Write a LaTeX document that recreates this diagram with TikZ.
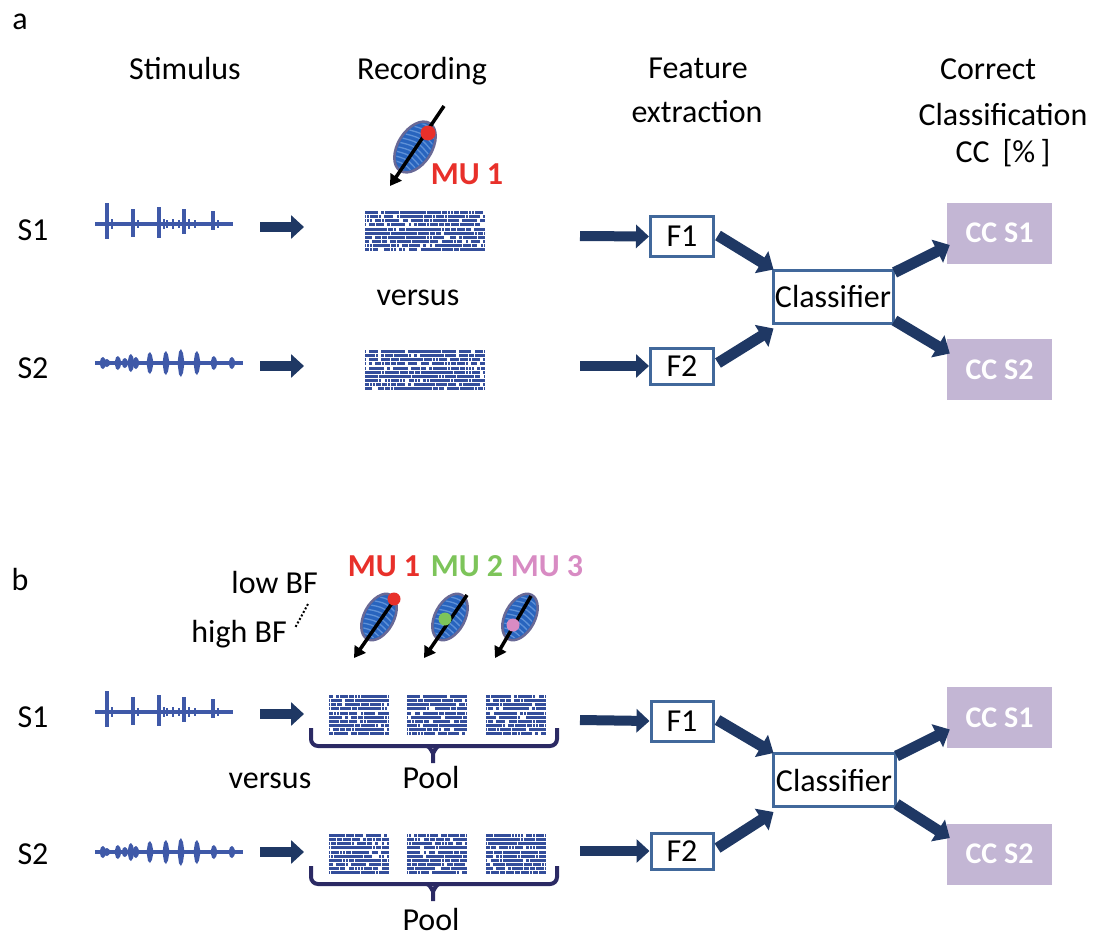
\documentclass[tikz,border=0pt]{standalone}
\usepackage{fontspec}
\setmainfont{Carlito}
\usetikzlibrary{arrows.meta}

\definecolor{navy}{RGB}{31,56,100}
\definecolor{boxblue}{RGB}{65,104,155}
\definecolor{lav}{RGB}{195,182,212}
\definecolor{wave}{RGB}{63,89,168}
\definecolor{rastercol}{RGB}{52,78,155}
\definecolor{mured}{RGB}{232,48,42}
\definecolor{mugreen}{RGB}{125,196,90}
\definecolor{mupink}{RGB}{216,139,195}
\definecolor{cellblue}{RGB}{40,100,190}
\definecolor{cellrim}{RGB}{105,105,150}
\definecolor{cellstripe}{RGB}{95,145,215}
\definecolor{bracecol}{RGB}{43,42,100}

\tikzset{
  txt/.style={font=\fontsize{32}{38}\selectfont, inner sep=0pt, anchor=base},
  mulbl/.style={font=\fontsize{32}{38}\selectfont\bfseries, inner sep=0pt, anchor=base},
  featbox/.style={draw=boxblue, line width=3pt, fill=white, inner sep=0pt,
    font=\fontsize{32}{38}\selectfont},
  ccbox/.style={fill=lav, inner sep=0pt, minimum width=105pt, minimum height=61pt,
    text=white, font=\fontsize{30}{36}\selectfont\bfseries},
  fatarrow/.style={draw=navy, line width=10pt, -{Triangle[width=23pt,length=13pt]}},
  diagarrow/.style={draw=navy, line width=11pt, -{Triangle[width=25pt,length=14pt]}},
  electrode/.style={draw=black, line width=3.5pt, -{Triangle[width=13pt,length=11pt]}},
  brace/.style={draw=bracecol, line width=4pt, rounded corners=7pt},
}

% raster of spike trains: x0, y0, width, rows, seed
% each row is a bar broken by short random gaps
\newcommand{\spikeraster}[5]{%
  \pgfmathsetseed{#5}%
  \foreach \rr in {1,...,#4}{%
    \fill[rastercol] ({#1},{#2+(\rr-1)*4.15}) rectangle ++(#3,2.9);
    \pgfmathtruncatemacro{\ncell}{#3/3}%
    \foreach \cc in {1,...,\ncell}{%
      \pgfmathsetmacro{\pr}{rnd}%
      \ifdim\pr pt<0.30pt\relax
        \pgfmathsetmacro{\gw}{\pr<0.07 ? 3.2 : 1.7}%
        \fill[white] ({#1+(\cc-1)*3+0.6},{#2+(\rr-1)*4.15-0.2}) rectangle ++(\gw,3.3);
      \fi
    }%
  }%
}

% click-train stimulus, left end at (#1,#2)
\newcommand{\stimclicks}[2]{%
  \begin{scope}[shift={(#1,#2)}]
    \draw[wave, line width=4.5pt] (0,0) -- (138,0);
    \foreach \dx/\up/\dn in {12/21/15, 38/15/13, 64/17/14, 89/15/10, 118/13/6}
      \fill[wave] (\dx-1.7,-\up) rectangle (\dx+1.7,\dn);
    \foreach \dx/\h in {17/5, 43/4, 69/5, 72/4, 78/5, 84/4, 94/5, 100/4, 123/4}
      \fill[wave] (\dx-1.2,-\h) rectangle (\dx+1.2,\h);
  \end{scope}
}

% vocalisation-like stimulus, left end at (#1,#2)
\newcommand{\stimbursts}[2]{%
  \begin{scope}[shift={(#1,#2)}]
    \draw[wave, line width=4.5pt] (0,0) -- (148,0);
    \foreach \dx/\h in {8/6, 12/4, 23/7, 30/5, 36/9, 41/6, 55/11, 71/12, 86/14, 102/12, 119/7, 137/6}
      \fill[wave] (\dx-3.5,0) -- (\dx-2,-\h*0.8) -- (\dx,-\h) -- (\dx+2,-\h*0.7)
        -- (\dx+3.5,0) -- (\dx+2,\h*0.7) -- (\dx,\h) -- (\dx-2,\h*0.8) -- cycle;
  \end{scope}
}

% muscle-fibre bundle: centre x, centre y, half length, half width, angle
\newcommand{\fibre}[5]{%
  \begin{scope}[shift={(#1,#2)}, rotate=#5]
    \fill[cellblue, draw=cellrim, line width=2.5pt] (0,0) ellipse [x radius=#3, y radius=#4];
    \begin{scope}
      \clip (0,0) ellipse [x radius=#3-2, y radius=#4-2];
      \foreach \t in {-30,-25,...,30}
        \draw[cellstripe, line width=1.3pt] (\t,-18) .. controls (\t+6,0) .. (\t,18);
    \end{scope}
  \end{scope}
}

\begin{document}
\begin{tikzpicture}[x=1pt, y=-1pt]
\useasboundingbox (0,0) rectangle (1099,939);

% ---------- panel labels and column headers ----------
\node[txt] (pa) at (20,30) {a};
\node[txt] (pb) at (20,590) {b};
\node[txt] (hstim) at (185,80) {Stimulus};
\node[txt] (hrec) at (422,80) {Recording};
\node[txt] (hfeat1) at (698,79) {Feature};
\node[txt] (hfeat2) at (697,123) {extraction};
\node[txt] (hcc1) at (988,80) {Correct};
\node[txt] (hcc2) at (1003,125) {Classification};
\node[txt] (hcc3) at (1003,162) {CC\hspace{0.4em}[\%\,]};

% ================= panel a =================
\node[txt] (sa1) at (33,240) {S1};
\node[txt] (sa2) at (33,378) {S2};
\stimclicks{95}{224}
\stimbursts{95}{363}

\coordinate (sa1s) at (260,227); \coordinate (sa1e) at (304,227);
\coordinate (sa2s) at (260,366); \coordinate (sa2e) at (304,366);
\draw[fatarrow] (sa1s) -- (sa1e);
\draw[fatarrow] (sa2s) -- (sa2e);

% single multi-unit recording
\fibre{415}{147}{28}{17}{58}
\coordinate (ea_top) at (444,106); \coordinate (ea_tip) at (390,186);
\draw[electrode] (ea_top) -- (ea_tip);
\fill[mured] (428,133) circle (7.5);
\node[mulbl, text=mured] (mua1) at (467,184) {MU 1};

\spikeraster{365}{211}{120}{10}{11}
\spikeraster{365}{350}{120}{10}{23}
\node[txt] (vsa) at (418,305) {versus};

\node[featbox, minimum width=63pt, minimum height=40pt] (fa1) at (682,236.5) {F1};
\node[featbox, minimum width=63pt, minimum height=36pt] (fa2) at (682,366) {F2};
\node[featbox, minimum width=120pt, minimum height=53pt] (cla) at (833,296.5) {Classifier};
\node[ccbox] (cca1) at (999.5,233) {CC S1};
\node[ccbox] (cca2) at (999.5,369.5) {CC S2};

\coordinate (fa1s) at (580,236); \coordinate (fa2s) at (580,366);
\draw[fatarrow] (fa1s) -- (fa1.west);
\draw[fatarrow] (fa2s) -- (fa2.west);
\draw[diagarrow] ([xshift=3pt,yshift=1pt]fa1.east) -- ([xshift=2pt,yshift=-1pt]cla.north west);
\draw[diagarrow] ([xshift=3pt,yshift=3pt]fa2.east) -- ([xshift=2pt,yshift=-4pt]cla.south west);
\draw[diagarrow] ([yshift=-4pt]cla.north east) -- ([xshift=3pt,yshift=-12pt]cca1.west);
\draw[diagarrow] ([yshift=4pt]cla.south east) -- ([xshift=3pt,yshift=16pt]cca2.west);

% ================= panel b =================
\node[mulbl, text=mured] (mub1) at (384,576) {MU 1};
\node[mulbl, text=mugreen] (mub2) at (467,576) {MU 2};
\node[mulbl, text=mupink] (mub3) at (547,576) {MU 3};
\node[txt, anchor=base east] (lowbf) at (318,593) {low BF};
\node[txt, anchor=base east] (highbf) at (287,642) {high BF};
\coordinate (bf1) at (308,604); \coordinate (bf2) at (295,628);
\draw[line width=2pt, dotted] (bf1) -- (bf2);

\fibre{379}{617}{25}{15}{62}
\fibre{450}{617}{25}{15}{62}
\fibre{520}{617}{25}{15}{62}
\coordinate (eb1t) at (397,596); \coordinate (eb1e) at (354,658);
\coordinate (eb2t) at (467,595); \coordinate (eb2e) at (424,658);
\coordinate (eb3t) at (531,596); \coordinate (eb3e) at (495,658);
\draw[electrode] (eb1t) -- (eb1e);
\draw[electrode] (eb2t) -- (eb2e);
\draw[electrode] (eb3t) -- (eb3e);
\fill[mured] (394,599) circle (6.5);
\fill[mugreen] (445,619) circle (6.5);
\fill[mupink] (513,625) circle (6.5);

\node[txt] (sb1) at (33,727) {S1};
\node[txt] (sb2) at (33,864) {S2};
\stimclicks{95}{712}
\stimbursts{95}{852}
\coordinate (sb1s) at (260,714); \coordinate (sb1e) at (304,714);
\coordinate (sb2s) at (260,852); \coordinate (sb2e) at (304,852);
\draw[fatarrow] (sb1s) -- (sb1e);
\draw[fatarrow] (sb2s) -- (sb2e);

\spikeraster{329}{695}{60}{10}{31}
\spikeraster{407}{695}{60}{10}{37}
\spikeraster{486}{695}{60}{10}{41}
\spikeraster{329}{834}{60}{10}{53}
\spikeraster{407}{834}{60}{10}{59}
\spikeraster{486}{834}{60}{10}{67}

% pooling braces
\draw[brace] (311,728) -- (311,746) -- (557,746) -- (557,728);
\draw[draw=bracecol, line width=4pt] (427,746) to[out=0,in=-90] (433,752) -- (433,763);
\draw[draw=bracecol, line width=4pt] (439,746) to[out=180,in=-90] (433,752);
\draw[brace] (311,866) -- (311,884) -- (557,884) -- (557,866);
\draw[draw=bracecol, line width=4pt] (427,884) to[out=0,in=-90] (433,890) -- (433,901);
\draw[draw=bracecol, line width=4pt] (439,884) to[out=180,in=-90] (433,890);
\node[txt] (poolb1) at (431,788) {Pool};
\node[txt] (poolb2) at (431,930) {Pool};
\node[txt] (vsb) at (270,788) {versus};

\node[featbox, minimum width=62pt, minimum height=40pt] (fb1) at (682,721) {F1};
\node[featbox, minimum width=62pt, minimum height=36pt] (fb2) at (682,851) {F2};
\node[featbox, minimum width=122pt, minimum height=53pt] (clb) at (834,780) {Classifier};
\node[ccbox] (ccb1) at (999.5,717.5) {CC S1};
\node[ccbox] (ccb2) at (999.5,854) {CC S2};

\coordinate (fb1s) at (580,720); \coordinate (fb2s) at (580,851);
\draw[fatarrow] (fb1s) -- (fb1.west);
\draw[fatarrow] (fb2s) -- (fb2.west);
\draw[diagarrow] ([xshift=3pt,yshift=1pt]fb1.east) -- ([xshift=2pt,yshift=-1pt]clb.north west);
\draw[diagarrow] ([xshift=3pt,yshift=3pt]fb2.east) -- ([xshift=2pt,yshift=-4pt]clb.south west);
\draw[diagarrow] ([yshift=-4pt]clb.north east) -- ([xshift=3pt,yshift=-12pt]ccb1.west);
\draw[diagarrow] ([yshift=4pt]clb.south east) -- ([xshift=3pt,yshift=16pt]ccb2.west);

\end{tikzpicture}
\end{document}
